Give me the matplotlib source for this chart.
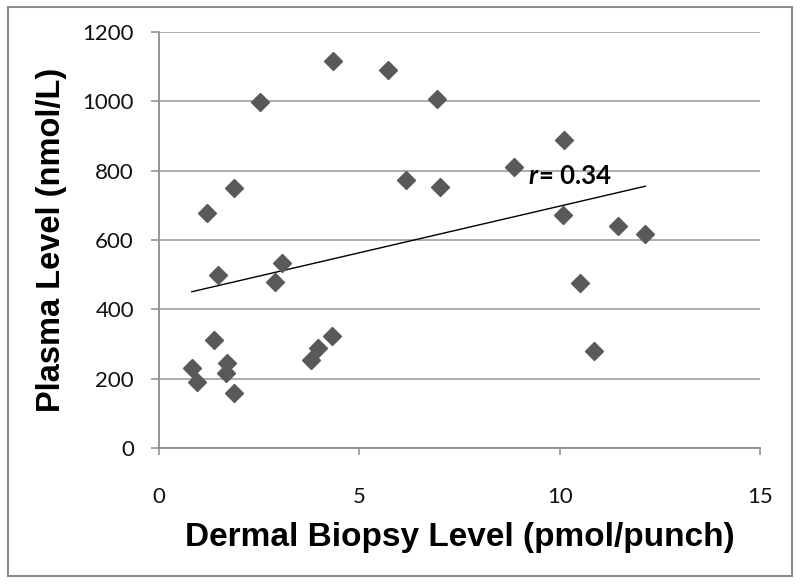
import numpy as np
import matplotlib
matplotlib.use("Agg")
import matplotlib.pyplot as plt
from matplotlib.patches import Rectangle

# dermal biopsy level (pmol/punch) vs plasma level (nmol/L)
dermal = [1.19, 1.88, 2.52, 4.35, 5.72, 6.93, 6.16, 7.02, 1.48, 3.06,
          2.89, 1.37, 4.33, 3.96, 3.79, 0.82, 0.96, 1.70, 1.66, 1.88,
          10.12, 8.85, 10.09, 11.45, 12.14, 10.51, 10.85]
plasma = [679, 749, 997, 1117, 1091, 1006, 772, 753, 498, 535,
          479, 312, 323, 289, 254, 232, 190, 244, 217, 158,
          888, 811, 672, 640, 616, 476, 280]
r_value = "0.34"
x_ticks = [0, 5, 10, 15]
y_ticks = [0, 200, 400, 600, 800, 1000, 1200]

label_font = ["Liberation Sans", "DejaVu Sans"]
tick_font = ["Lato", "DejaVu Sans"]

fig = plt.figure(figsize=(8, 5.84), dpi=100)
ax = fig.add_axes([0.19875, 0.2329, 0.75125, 0.7123])

x = np.asarray(dermal)
y = np.asarray(plasma)

# linear trendline over the range of the data
slope, intercept = np.polyfit(x, y, 1)
xs = np.array([x.min(), x.max()])
ax.plot(xs, slope * xs + intercept, color="black", lw=1.0, zorder=3)

ax.plot(x, y, linestyle="none", marker="D", ms=8.7,
        color="#595959", mec="#595959", zorder=4)

ax.set_xlim(0, 15)
ax.set_ylim(0, 1200)
ax.set_xticks(x_ticks)
ax.set_yticks(y_ticks)

ax.grid(axis="y", color="#a6a6a6", lw=1.3)
ax.set_axisbelow(True)
for side in ["top", "right"]:
    ax.spines[side].set_visible(False)
for side in ["left", "bottom"]:
    ax.spines[side].set_color("#8c8c8c")
    ax.spines[side].set_linewidth(1.3)

ax.tick_params(axis="y", direction="out", length=6, width=1.1,
               color="#8c8c8c", pad=12, labelsize=16, labelcolor="#111111")
ax.tick_params(axis="x", direction="out", length=5, width=1.1,
               color="#8c8c8c", pad=23, labelsize=16, labelcolor="#111111")
for lab in ax.get_xticklabels() + ax.get_yticklabels():
    lab.set_family(tick_font)

ax.set_xlabel("Dermal Biopsy Level (pmol/punch)", family=label_font,
              fontsize=24, fontweight="bold", labelpad=11)
ax.set_ylabel("Plasma Level (nmol/L)", family=label_font,
              fontsize=23.5, fontweight="bold", labelpad=11)

# correlation annotation
t = ax.text(9.21, 762, "r", family=tick_font, fontsize=18.5,
            fontweight="bold", style="italic", ha="left", va="baseline")
ax.annotate("= " + r_value, xy=(1, 0), xycoords=t, xytext=(1, 0),
            textcoords="offset points", family=tick_font, fontsize=18.5,
            fontweight="bold", ha="left", va="bottom")

# grey frame round the whole chart
fig.patches.append(Rectangle((8 / 800, 1 - 576 / 584), 784 / 800, 569 / 584,
                             transform=fig.transFigure, fill=False,
                             edgecolor="#8c8c8c", lw=1.5))

fig.savefig("out.png", dpi=100)
